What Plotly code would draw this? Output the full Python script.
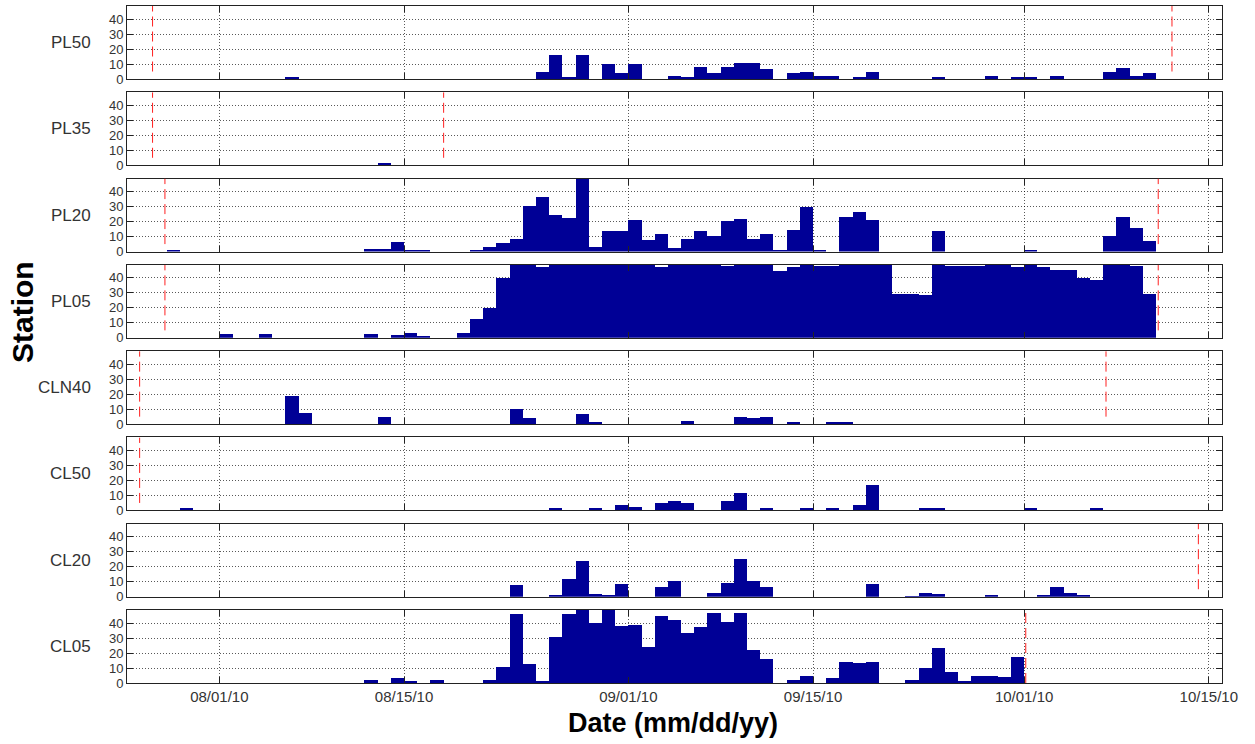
import plotly.graph_objects as go
import pandas as pd

# ---------------- data ----------------
start_date = "2010-07-25"
n_days = 83
stations = ["PL50", "PL35", "PL20", "PL05", "CLN40", "CL50", "CL20", "CL05"]

# daily counts, keyed by day index (0 = 07/25/10)
PL50 = {12: 1, 31: 5, 32: 16, 33: 1, 34: 16, 36: 10, 37: 4, 38: 10, 41: 2, 42: 1,
        43: 8, 44: 4, 45: 8, 46: 11, 47: 11, 48: 7, 50: 4, 51: 4.5, 52: 2, 53: 2,
        55: 1, 56: 4.5, 61: 1, 65: 2, 67: 1, 68: 1, 70: 2, 74: 4.5, 75: 7.4,
        76: 2, 77: 4}
PL35 = {19: 1}
PL20 = {3: 1.3, 18: 2, 19: 2, 20: 6.4, 21: 1.3, 22: 1.3, 26: 1.5, 27: 3.4,
        28: 5.7, 29: 8.6, 30: 31, 31: 37, 32: 25, 33: 22.7, 34: 50, 35: 3.4,
        36: 14, 37: 14, 38: 21.5, 39: 8, 40: 12, 41: 2.7, 42: 8.7, 43: 14,
        44: 11, 45: 20.5, 46: 22, 47: 8.7, 48: 12, 49: 1, 50: 15, 51: 30,
        52: 1.6, 54: 23.5, 55: 26.5, 56: 21.5, 61: 14, 68: 1, 74: 11, 75: 23.6,
        76: 15.8, 77: 7.3}
PL05 = {7: 2.6, 10: 2.6, 18: 2.6, 20: 1.9, 21: 3.5, 22: 1.6, 25: 3.5, 26: 13,
        27: 20, 28: 40, 29: 50, 30: 50, 31: 47.5, 32: 50, 33: 50, 34: 50,
        35: 50, 36: 50, 37: 50, 38: 50, 39: 50, 40: 47.5, 41: 50, 42: 50,
        43: 50, 44: 50, 45: 48, 46: 50, 47: 50, 48: 50, 49: 44.8, 50: 47.2,
        51: 50, 52: 48, 53: 48, 54: 50, 55: 50, 56: 50, 57: 50, 58: 29.6,
        59: 29.6, 60: 28.4, 61: 50, 62: 48, 63: 48, 64: 48, 65: 50, 66: 50,
        67: 47.7, 68: 50, 69: 47.5, 70: 45.3, 71: 45.3, 72: 40, 73: 39,
        74: 50, 75: 50, 76: 48, 77: 29.6}
CLN40 = {12: 18.9, 13: 7.5, 19: 4.5, 29: 9.7, 30: 3.7, 34: 6.7, 35: 1.5,
         42: 2, 46: 4.9, 47: 4.2, 48: 4.9, 50: 1.3, 53: 1, 54: 1}
CL50 = {4: 1.5, 32: 1.3, 35: 1.3, 37: 3.3, 38: 1.8, 40: 4.7, 41: 6.2, 42: 4.7,
        45: 6.2, 46: 11.5, 48: 1.3, 51: 1.3, 53: 1.3, 55: 3.3, 56: 16.9,
        60: 1.3, 61: 1.3, 68: 1.3, 73: 1.3}
CL20 = {29: 8.3, 32: 0.9, 33: 12.2, 34: 23.9, 35: 1.7, 36: 0.9, 37: 8.9,
        40: 6.6, 41: 10.8, 44: 3, 45: 9.6, 46: 25.3, 47: 10.8, 48: 6.6,
        56: 8.7, 59: 0.6, 60: 3, 61: 1.7, 65: 0.9, 69: 0.9, 70: 6.6, 71: 3,
        72: 0.9}
CL05 = {18: 1.7, 20: 3.3, 21: 1.3, 23: 1.7, 27: 1.7, 28: 10.7, 29: 46.3,
        30: 13, 31: 1.3, 32: 30.6, 33: 46.3, 34: 50, 35: 40, 36: 50, 37: 38,
        38: 39, 39: 24, 40: 44.4, 41: 42.2, 42: 33.4, 43: 37.6, 44: 46.6,
        45: 40.7, 46: 46.6, 47: 22, 48: 16, 50: 2, 51: 4.8, 53: 3.3, 54: 14,
        55: 13.4, 56: 14, 59: 2, 60: 10.3, 61: 23.5, 62: 7.3, 63: 1.3,
        64: 4.8, 65: 4.8, 66: 4.2, 67: 17.4}
series = [PL50, PL35, PL20, PL05, CLN40, CL50, CL20, CL05]

# red dashed marker lines (date/time) per station
red_lines = {
    "PL50": ["2010-07-26 22:30", "2010-10-12 05:00"],
    "PL35": ["2010-07-26 22:30", "2010-08-18 00:00"],
    "PL20": ["2010-07-27 21:00", "2010-10-11 04:00"],
    "PL05": ["2010-07-27 21:00", "2010-10-11 04:00"],
    "CLN40": ["2010-07-25 23:00", "2010-10-07 05:00"],
    "CL50": ["2010-07-25 23:00"],
    "CL20": ["2010-10-14 05:00"],
    "CL05": ["2010-10-01 03:00"],
}

tick_dates = ["2010-08-01", "2010-08-15", "2010-09-01", "2010-09-15",
              "2010-10-01", "2010-10-15"]
y_ticks = [0, 10, 20, 30, 40]
y_max = 48.7

# ---------------- layout geometry ----------------
W, H = 1255, 744
ml, mr, mt, mb = 127, 33, 6, 61
plot_h = H - mt - mb
plot_w = W - ml - mr
panel_h = 73
pitch = (plot_h - panel_h) / 7.0

days = pd.date_range(start_date, periods=n_days, freq="D")
centers = days + pd.Timedelta(hours=12)
x_range = [pd.Timestamp(start_date), pd.Timestamp(start_date) + pd.Timedelta(days=n_days)]

fig = go.Figure()
layout = dict(width=W, height=H, margin=dict(l=ml, r=mr, t=mt, b=mb),
              plot_bgcolor="white", paper_bgcolor="white", showlegend=False,
              bargap=0, font=dict(family="Liberation Sans, Arial", color="#333"))
shapes = []
annotations = []

for i, (name, data) in enumerate(zip(stations, series)):
    k = "" if i == 0 else str(i + 1)
    vals = [data.get(d, 0) for d in range(n_days)]
    fig.add_trace(go.Bar(x=centers, y=vals, width=86400000, xaxis="x" + k, yaxis="y" + k,
                         marker=dict(color="#000096", line=dict(width=0))))
    top_px = pitch * i
    y1 = 1 - top_px / plot_h
    y0 = 1 - (top_px + panel_h) / plot_h
    last = (i == len(stations) - 1)
    layout["xaxis" + k] = dict(
        domain=[0, 1], anchor="y" + k, type="date", range=x_range,
        tickvals=tick_dates, tickformat="%m/%d/%y", showticklabels=last,
        ticks="inside", ticklen=6, tickcolor="#222", mirror="ticks",
        showline=True, linecolor="#222", linewidth=1,
        showgrid=True, gridcolor="rgba(0,0,0,0.65)", griddash="1px,2px", gridwidth=1,
        zeroline=False, tickfont=dict(size=15, color="#333"),
        matches=None if i == 0 else "x")
    layout["yaxis" + k] = dict(
        domain=[y0, y1], anchor="x" + k, range=[0, y_max], tickvals=y_ticks,
        ticks="inside", ticklen=6, tickcolor="#222", mirror="ticks",
        showline=True, linecolor="#222", linewidth=1,
        showgrid=True, gridcolor="rgba(0,0,0,0.65)", griddash="1px,2px", gridwidth=1,
        zeroline=False, tickfont=dict(size=13, color="#333"))
    annotations.append(dict(text=name, xref="paper", yref="paper",
                            x=-(127 - 93) / plot_w, y=(y0 + y1) / 2,
                            xanchor="right", yanchor="middle", showarrow=False,
                            font=dict(size=17, color="#333")))
    for dt in red_lines.get(name, []):
        bottom = 0 if name == "CL05" else 5
        shapes.append(dict(type="line", xref="x" + k, yref="y" + k, x0=dt, x1=dt,
                           y0=bottom, y1=y_max, line=dict(color="#ff2020", width=1,
                                                          dash="10px,5px")))

annotations.append(dict(text="<b>Station</b>", xref="paper", yref="paper",
                        x=-(127 - 22) / plot_w, y=1 - (312 - mt) / plot_h,
                        xanchor="center", yanchor="middle", textangle=-90, showarrow=False,
                        font=dict(size=30, color="black")))
annotations.append(dict(text="<b>Date (mm/dd/yy)</b>", xref="paper", yref="paper",
                        x=(673 - ml) / plot_w, y=1 - (723 - mt) / plot_h, xanchor="center",
                        yanchor="middle", showarrow=False,
                        font=dict(size=27, color="black")))

layout["shapes"] = shapes
layout["annotations"] = annotations
fig.update_layout(**layout)
fig.write_html("out.html", config={"displayModeBar": False},
               post_script="document.body.style.margin='0px';document.body.style.overflow='hidden';")
